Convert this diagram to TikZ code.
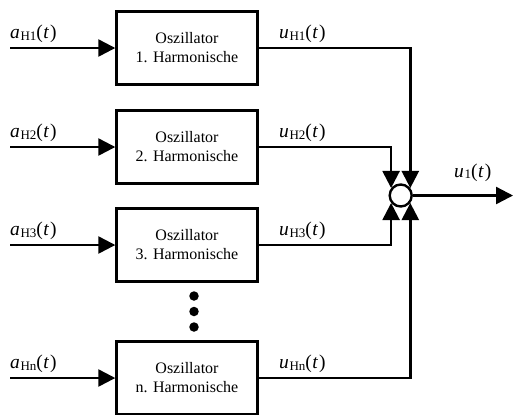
\documentclass[tikz,border=0pt]{standalone}
\usepackage{fontspec}
\setmainfont{Liberation Serif}
\usetikzlibrary{arrows.meta}

% signal label: italic letter, upright subscript, argument (t)
\newcommand\sigl[2]{\textit{#1}\kern0.6bp\raisebox{-1.5bp}{\fontsize{13bp}{13bp}\selectfont #2}(\kern0.5bp\textit{t}\kern1bp)}

\begin{document}
\begin{tikzpicture}[x=1bp,y=-1bp,
  line width=2.4bp,
  tip/.style={-{Triangle[length=17bp,width=17bp]}},
  oscbox/.style={draw,rectangle,minimum width=141bp,minimum height=73bp,
    align=center,font=\fontsize{16bp}{19bp}\selectfont,inner sep=0pt},
  sumnode/.style={draw,circle,minimum size=22bp,inner sep=0pt,fill=white},
  lbl/.style={anchor=base west,inner sep=0pt,font=\fontsize{19.5bp}{19.5bp}\selectfont},
  dotmark/.style={fill,circle,minimum size=9.5bp,inner sep=0pt,draw=none}]

\useasboundingbox (0,0) rectangle (514,414);

% oscillator blocks
\node[oscbox] (b1) at (187,48)  {Oszillator\\1. Harmonische};
\node[oscbox] (b2) at (187,147) {Oszillator\\2. Harmonische};
\node[oscbox] (b3) at (187,245) {Oszillator\\3. Harmonische};
\node[oscbox] (bn) at (187,378) {Oszillator\\n. Harmonische};

% summing point
\node[sumnode] (sum) at (400.7,195.5) {};

% ellipsis dots between block 3 and block n
\node[dotmark] (d1) at (194,296) {};
\node[dotmark] (d2) at (194,311.5) {};
\node[dotmark] (d3) at (194,327) {};

% input start points
\coordinate (i1) at (10,48);
\coordinate (i2) at (10,147);
\coordinate (i3) at (10,245);
\coordinate (in) at (10,378);
\coordinate (out) at (513,195.5);

% inputs
\draw[tip] (i1) -- (b1.west);
\draw[tip] (i2) -- (b2.west);
\draw[tip] (i3) -- (b3.west);
\draw[tip] (in) -- (bn.west);

% outputs into the summing point
\draw[tip] (b1.east) -| (sum.38);
\draw[tip] (b2.east) -| (sum.142);
\draw[tip] (b3.east) -| (sum.218);
\draw[tip] (bn.east) -| (sum.322);
\draw[tip] (sum.east) -- (out);

% labels
\node[lbl] (la1) at (9,38.5)    {\sigl{a}{H1}};
\node[lbl] (la2) at (9,137.5)   {\sigl{a}{H2}};
\node[lbl] (la3) at (9,235.5)   {\sigl{a}{H3}};
\node[lbl] (lan) at (9,368.5)   {\sigl{a}{Hn}};
\node[lbl] (lu1) at (278,38.5)  {\sigl{u}{H1}};
\node[lbl] (lu2) at (278,137.5) {\sigl{u}{H2}};
\node[lbl] (lu3) at (278,235.5) {\sigl{u}{H3}};
\node[lbl] (lun) at (278,368.5) {\sigl{u}{Hn}};
\node[lbl] (lo)  at (453,177)   {\sigl{u}{1}};
\end{tikzpicture}
\end{document}
